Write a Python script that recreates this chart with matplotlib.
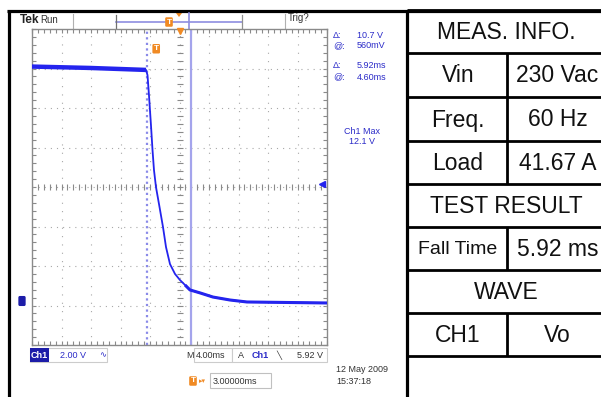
import matplotlib
matplotlib.use("Agg")
import matplotlib.pyplot as plt
import numpy as np
from matplotlib.patches import Rectangle, Polygon

plt.rcParams['font.family'] = ['Liberation Sans', 'DejaVu Sans']

# ---------------- data ----------------
time_ms = [-20.0, -12.14, -4.54, -4.34, -4.14, -3.87, -3.66, -3.46, -3.19,
           -2.71, -2.24, -1.83, -1.29, -0.61, 0.07, 0.75, 1.42, 2.78, 4.54,
           6.85, 9.15, 20.0]
ch1_volts = [11.87, 11.80, 11.70, 11.44, 10.43, 8.91, 7.65, 6.63, 5.77,
             4.76, 3.75, 2.73, 1.87, 1.37, 1.06, 0.81, 0.56, 0.41, 0.20,
             0.05, -0.05, -0.10]
cursor_a_ms = -4.36
cursor_b_ms = 1.56
trigger_level_v = 5.92
volts_per_div = 2.0
ms_per_div = 4.0
ground_offset_div = -2.886

readout_lines = [("Δ:", "10.7 V"), ("@:", "560mV"), ("Δ:", "5.92ms"), ("@:", "4.60ms")]
max_label = ["Ch1 Max", "12.1 V"]
bottom_scale = "2.00 V"
timebase = "4.00ms"
trig_text = "5.92 V"
delay_text = "3.00000ms"
date_lines = ["12 May 2009", "15:37:18"]

table_rows = [["MEAS. INFO."], ["Vin", "230 Vac"], ["Freq.", "60 Hz"],
              ["Load", "41.67 A"], ["TEST RESULT"], ["Fall Time", "5.92 ms"],
              ["WAVE"], ["CH1", "Vo"], [""]]

# ---------------- figure ----------------
W, H = 601, 397
fig = plt.figure(figsize=(W / 100, H / 100), dpi=100)
ov = fig.add_axes([0, 0, 1, 1])
ov.set_xlim(0, W)
ov.set_ylim(H, 0)
ov.axis('off')

BLUE_TXT = '#2b2bc8'
ORANGE = '#f08a24'

# black frame
ov.plot([7, W], [10.5, 10.5], color='black', lw=2.3, solid_capstyle='butt')
ov.plot([8.5, 8.5], [9.5, H], color='black', lw=2.3, solid_capstyle='butt')

# ---------------- table ----------------
tx0, tdiv, tx1 = 407, 507, 612
row_edges = [10, 53, 97, 141, 184, 227, 270, 313, 356, 397]
ov.plot([tx0, tx0], [9.5, H], color='black', lw=2.3, solid_capstyle='butt')
for y in row_edges[:-1]:
    ov.plot([tx0, W], [y, y], color='black', lw=2.0, solid_capstyle='butt')
for i, row in enumerate(table_rows):
    y0, y1 = row_edges[i], row_edges[i + 1]
    yc = (y0 + y1) / 2 + 1
    if len(row) == 2:
        ov.plot([tdiv, tdiv], [y0, y1], color='black', lw=2.0, solid_capstyle='butt')
        fs_left = 14 if row[0] == "Fall Time" else 16.5
        ov.text((tx0 + tdiv) / 2 + 1, yc, row[0], ha='center', va='center',
                fontsize=fs_left, color='#111111')
        ov.text((tdiv + tx1) / 2 - 2, yc, row[1], ha='center', va='center',
                fontsize=16.5, color='#111111', clip_on=True)
    else:
        ov.text((tx0 + tx1) / 2 - 3, yc, row[0], ha='center', va='center',
                fontsize=16.5, color='#111111')

# ---------------- top bar ----------------
ov.text(20, 20, "Tek", fontsize=8.5, fontweight='bold', va='center', color='#222222')
ov.text(40, 20, "Run", fontsize=7, va='center', color='#333333')
ov.plot([73, 73], [14, 28], color='#b0b0b0', lw=0.8)
ov.plot([116, 242], [22, 22], color='#8e8ee0', lw=1.2)
ov.plot([116, 116], [15, 28], color='#707070', lw=0.9)
ov.plot([242, 242], [15, 28], color='#909090', lw=0.9)
ov.plot([189, 189], [13, 29], color='#8e8ee0', lw=1.2)
ov.text(169, 22, "T", fontsize=6, fontweight='bold', color='white', ha='center', va='center',
        bbox=dict(boxstyle='round,pad=0.15', fc=ORANGE, ec='none'))
ov.add_patch(Polygon([[176, 13], [182, 13], [179, 17]], closed=True, fc=ORANGE, ec='none'))
ov.plot([285, 285], [14, 28], color='#b0b0b0', lw=0.8)
ov.text(288, 18, "Trig?", fontsize=7, va='center', color='#333333')

# readouts
ys = [36, 46, 66, 77]
for (lab, val), y in zip(readout_lines, ys):
    ov.text(333, y, lab, fontsize=6.5, va='center', color=BLUE_TXT)
    ov.text(357, y, val, fontsize=6.5, va='center', color=BLUE_TXT)
ov.text(362, 131, max_label[0], fontsize=6.5, va='center', ha='center', color=BLUE_TXT)
ov.text(362, 142, max_label[1], fontsize=6.5, va='center', ha='center', color=BLUE_TXT)

# bottom readouts
ov.add_patch(Rectangle((30, 348), 77, 14, fc='white', ec='#cccccc', lw=0.8))
ov.add_patch(Rectangle((30, 348), 19, 14, fc='#1c1ca8', ec='none'))
ov.text(39.5, 355, "Ch1", fontsize=6.5, fontweight='bold', color='white', ha='center', va='center')
ov.text(60, 355, bottom_scale, fontsize=6.5, color=BLUE_TXT, va='center')
ov.text(103, 355, "∿", fontsize=6, color=BLUE_TXT, va='center', ha='center',
        family=['DejaVu Sans'])
ov.add_patch(Rectangle((194, 348), 38, 14, fc='white', ec='#cccccc', lw=0.8))
ov.add_patch(Rectangle((232, 348), 95, 14, fc='white', ec='#cccccc', lw=0.8))
ov.text(186, 355, "M", fontsize=6.5, color='#333333', va='center')
ov.text(196, 355, timebase, fontsize=6.5, color='#333333', va='center')
ov.text(238, 355, "A", fontsize=6.5, color='#333333', va='center')
ov.text(252, 355, "Ch1", fontsize=6.5, fontweight='bold', color=BLUE_TXT, va='center')
ov.text(279, 355, "╲", fontsize=6, color='#333333', va='center', ha='center',
        family=['DejaVu Sans'])
ov.text(297, 355, trig_text, fontsize=6.5, color='#333333', va='center')

ov.text(193, 381, "T", fontsize=6, fontweight='bold', color='white', ha='center', va='center',
        bbox=dict(boxstyle='round,pad=0.15', fc=ORANGE, ec='none'))
ov.text(199, 381, "▸▾", fontsize=5, color=ORANGE, va='center', family=['DejaVu Sans'])
ov.add_patch(Rectangle((210, 373), 61, 15, fc='white', ec='#c0c0c0', lw=0.8))
ov.text(213, 381, delay_text, fontsize=6.5, color='#333333', va='center')
ov.text(336, 370, date_lines[0], fontsize=6.5, color='#333333', va='center')
ov.text(336, 382, date_lines[1], fontsize=6.5, color='#333333', va='center')

# ground marker
ov.text(22, 301, "1", fontsize=5.5, fontweight='bold', color='#1c1ca8', ha='center', va='center',
        bbox=dict(boxstyle='round,pad=0.2', fc='#1c1ca8', ec='none'))

# ---------------- scope graticule ----------------
ax = fig.add_axes([32 / W, 1 - 345 / H, 295 / W, 316 / H])
xc = 0.0
yc = -ground_offset_div * volts_per_div
xmin, xmax = xc - 5 * ms_per_div, xc + 5 * ms_per_div
ymin, ymax = yc - 4 * volts_per_div, yc + 4 * volts_per_div
ax.set_xlim(xmin, xmax)
ax.set_ylim(ymin, ymax)
ax.set_facecolor('white')

xminor = np.linspace(xmin, xmax, 51)
yminor = np.linspace(ymin, ymax, 41)
ax.set_xticks(xminor)
ax.set_yticks(yminor)
ax.tick_params(direction='in', length=3, width=0.8, color='#8a8a8a',
               top=True, right=True, labelbottom=False, labelleft=False)
for s in ax.spines.values():
    s.set_color('#8a8a8a')
    s.set_linewidth(1.0)

for xv in np.linspace(xmin, xmax, 11)[1:-1]:
    ax.axvline(xv, color='#a8a8a8', lw=0.8, ls=(0, (1, 6.5)))
for yv in np.linspace(ymin, ymax, 9)[1:-1]:
    ax.axhline(yv, color='#a8a8a8', lw=0.8, ls=(0, (1, 4.5)))
# center cross ticks
ax.plot(np.full(len(yminor), xc), yminor, ls='none', marker='_', ms=5, mew=0.8, color='#8a8a8a')
ax.plot(xminor, np.full(len(xminor), yc), ls='none', marker='|', ms=5, mew=0.8, color='#8a8a8a')

# cursors
ax.axvline(cursor_a_ms, color='#8a8ae8', lw=1.6, ls=(0, (1, 1.5)))
ax.axvline(cursor_b_ms, color='#a4a4ec', lw=1.6)

# trace
t = np.array(time_ms)
v = np.array(ch1_volts)
ax.plot(t, v, color='#2424ee', lw=1.3, zorder=5)
m1 = t <= -4.54
m2 = t >= 0.75
ax.plot(t[m1], v[m1], color='#2424ee', lw=3.2, zorder=5, solid_capstyle='butt')
ax.plot(t[m2], v[m2], color='#2424ee', lw=2.2, zorder=5, solid_capstyle='butt')

# trigger markers
ax.plot([xmax - 0.7], [trigger_level_v], marker='<', ms=5, color='#2424ee', ls='none', zorder=6)
ax.plot([xc], [ymax - 0.1], marker='v', ms=5, color=ORANGE, ls='none', zorder=6, clip_on=False)
ax.text(cursor_a_ms + 1.2, ymax - 1.0, "T", fontsize=6, fontweight='bold', color='white',
        ha='center', va='center', bbox=dict(boxstyle='round,pad=0.15', fc=ORANGE, ec='none'))

fig.savefig("out.png", dpi=100)
